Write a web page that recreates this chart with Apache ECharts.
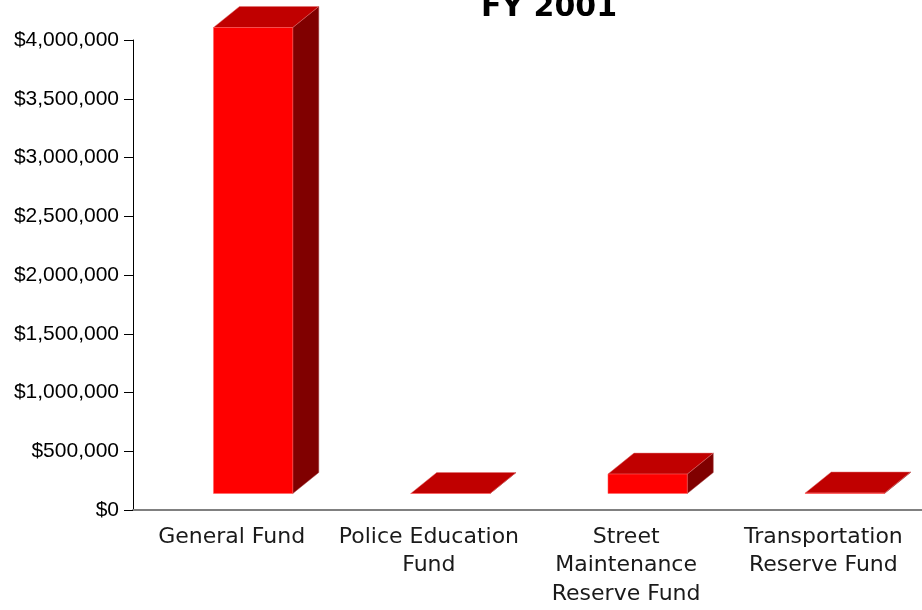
<!DOCTYPE html>
<html><head><meta charset="utf-8">
<script src="https://cdn.jsdelivr.net/npm/echarts@6/dist/echarts.min.js"></script>
<style>html,body{margin:0;padding:0;background:#fff}#c{width:922px;height:610px}</style>
</head><body><div id="c"></div>
<script>
const titleText = 'FY 2001';
const categories = ['General Fund', 'Police Education\nFund', 'Street\nMaintenance\nReserve Fund', 'Transportation\nReserve Fund'];
const values = [3966000, 0, 165000, 4000];
const yTicks = { min: 0, max: 4000000, interval: 500000 };

function money(v) {
  return '$' + String(v).replace(/\B(?=(\d{3})+(?!\d))/g, ',');
}

const chart = echarts.init(document.getElementById('c'), null, { renderer: 'canvas' });
chart.setOption({
  animation: false,
  backgroundColor: '#fff',
  title: {
    text: titleText, left: 544, textAlign: 'center', top: -12,
    textStyle: { fontFamily: 'DejaVu Sans', fontSize: 30, fontWeight: 'bold', color: '#000' }
  },
  grid: { left: 133, top: 40, width: 796, height: 470 },
  xAxis: {
    type: 'category', data: categories,
    axisLine: { lineStyle: { color: '#808080', width: 2 } },
    axisTick: { length: 8, lineStyle: { color: '#808080' } },
    axisLabel: { margin: 13, fontFamily: 'DejaVu Sans', fontSize: 22, lineHeight: 28.5, color: '#1a1a1a', interval: 0 }
  },
  yAxis: {
    type: 'value', min: yTicks.min, max: yTicks.max, interval: yTicks.interval,
    axisLine: { show: true, lineStyle: { color: '#000', width: 1 } },
    axisTick: { show: true, length: 9, lineStyle: { color: '#000' } },
    splitLine: { show: false },
    axisLabel: { margin: 14, formatter: money, fontFamily: 'Liberation Sans', fontSize: 21, color: '#000' }
  },
  series: [{
    type: 'custom',
    data: values.map((v, i) => [i, v]),
    renderItem: function (params, api) {
      const base = api.coord([api.value(0), 0]);
      const top = api.coord([api.value(0), api.value(1)]);
      const cw = api.size([1, 0])[0];
      const w = cw * 0.402;
      const x0 = base[0] - cw * 0.092;
      const lift = 16.5;
      const y0 = base[1] - lift;
      const y1 = Math.min(top[1] - lift, y0);
      const dx = 26, dy = -21;
      return {
        type: 'group',
        children: [
          { type: 'polygon', shape: { points: [[x0 + w, y0], [x0 + w, y1], [x0 + w + dx, y1 + dy], [x0 + w + dx, y0 + dy]] },
            style: { fill: '#800000', stroke: '#a04040', lineWidth: 0.5 } },
          { type: 'polygon', shape: { points: [[x0, y1], [x0 + w, y1], [x0 + w + dx, y1 + dy], [x0 + dx, y1 + dy]] },
            style: { fill: '#c00000', stroke: '#e07070', lineWidth: 0.5 } },
          { type: 'rect', shape: { x: x0, y: y1, width: w, height: y0 - y1 },
            style: { fill: '#ff0000', stroke: '#ff6060', lineWidth: 0.5 } }
        ]
      };
    }
  }]
});
</script></body></html>
